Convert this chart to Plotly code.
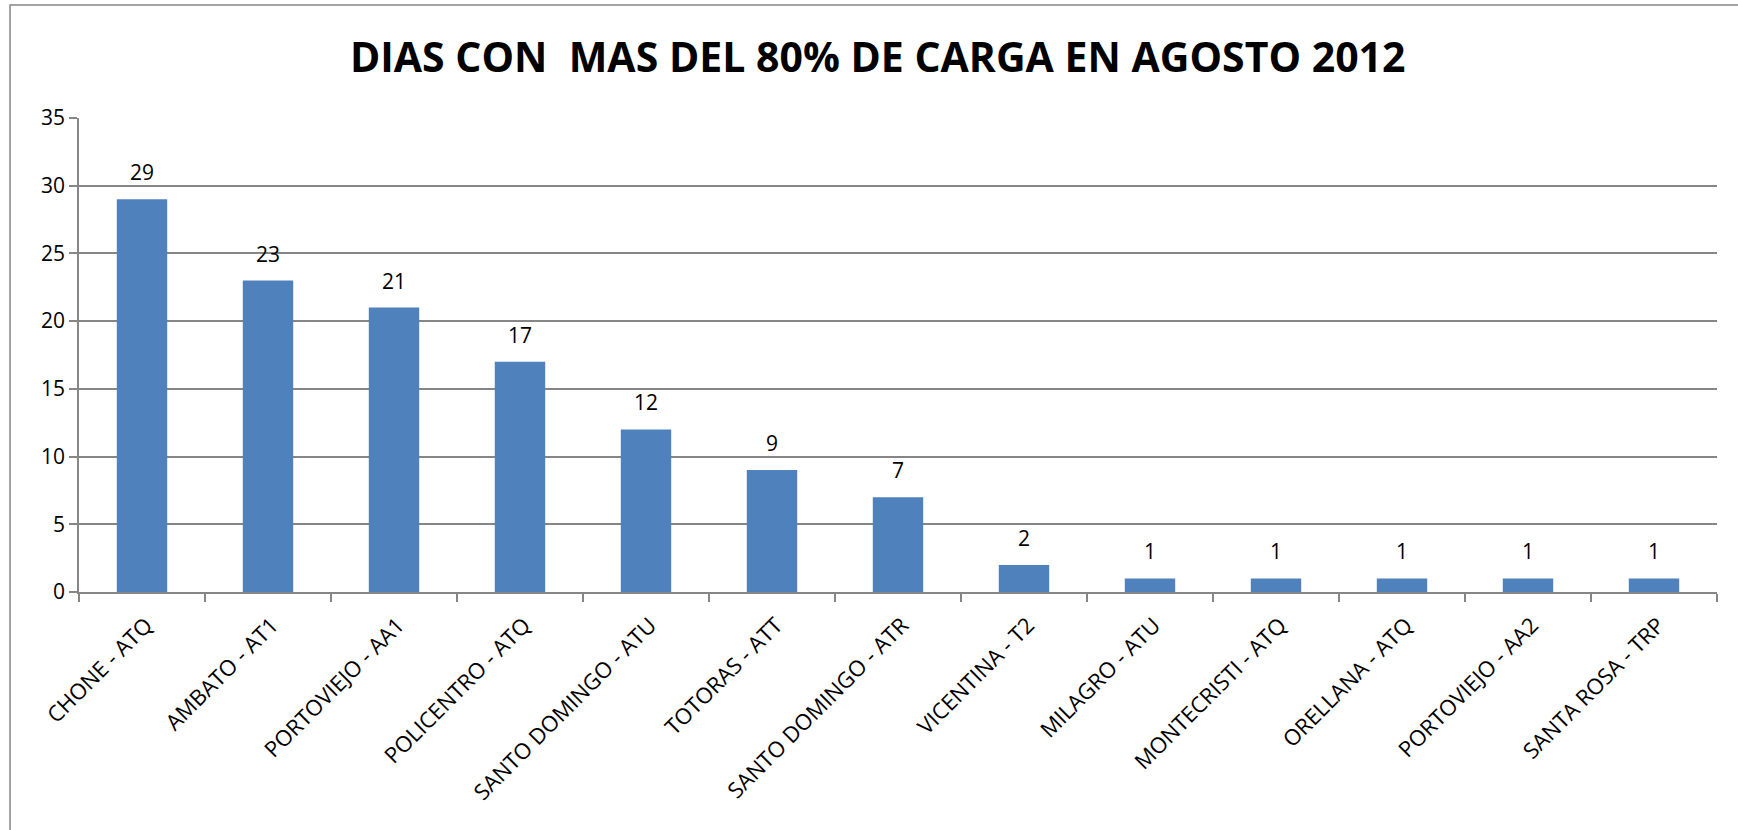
import plotly.graph_objects as go

# Datos
subestaciones = [
    "CHONE - ATQ", "AMBATO - AT1", "PORTOVIEJO - AA1", "POLICENTRO - ATQ",
    "SANTO DOMINGO - ATU", "TOTORAS - ATT", "SANTO DOMINGO - ATR",
    "VICENTINA - T2", "MILAGRO - ATU", "MONTECRISTI - ATQ", "ORELLANA - ATQ",
    "PORTOVIEJO - AA2", "SANTA ROSA - TRP",
]
dias = [29, 23, 21, 17, 12, 9, 7, 2, 1, 1, 1, 1, 1]
y_ticks = [0, 5, 10, 15, 20, 25, 30, 35]

FONT = "Open Sans"
GRID = "#868686"

fig = go.Figure()

fig.add_trace(go.Bar(
    x=subestaciones,
    y=dias,
    marker_color="#4F81BD",
    marker_line_width=0,
    width=0.4,
))

# Etiquetas de datos sobre cada barra
for name, val in zip(subestaciones, dias):
    fig.add_annotation(
        x=name, y=val, text=str(val),
        showarrow=False, yanchor="bottom", yshift=11,
        font=dict(family=FONT, size=21, color="black"),
    )

# Marco exterior del grafico
fig.add_shape(
    type="rect", xref="paper", yref="paper",
    x0=-0.0421, x1=1.02, y0=-0.54, y1=1.2384,
    line=dict(color=GRID, width=1.5),
)

fig.update_layout(
    width=1738, height=830, autosize=False,
    margin=dict(l=79, r=21, t=118, b=238),
    paper_bgcolor="white", plot_bgcolor="white",
    showlegend=False,
    title=dict(
        text="<b>DIAS CON  MAS DEL 80% DE CARGA EN AGOSTO 2012</b>",
        x=0.505, xref="container", xanchor="center",
        y=0.93, yref="container", yanchor="middle",
        font=dict(family=FONT, size=41, color="black"),
    ),
)

fig.update_xaxes(
    type="category",
    tickangle=-45,
    tickson="boundaries",
    ticks="outside", ticklen=8, tickcolor=GRID, tickwidth=1.5,
    showline=True, linecolor=GRID, linewidth=1.5,
    showgrid=False,
    ticklabelstandoff=10, ticklabelshift=4,
    tickfont=dict(family=FONT, size=22, color="black"),
)

fig.update_yaxes(
    range=[0, 35],
    tickvals=y_ticks,
    ticks="outside", ticklen=8, tickcolor=GRID, tickwidth=1.5,
    showline=True, linecolor=GRID, linewidth=1.5,
    showgrid=True, gridcolor=GRID, gridwidth=1.5,
    zeroline=False,
    tickfont=dict(family=FONT, size=21, color="black"),
)

fig.write_html(
    "out.html",
    config={"displayModeBar": False},
    post_script="document.body.style.margin='0px';",
)
